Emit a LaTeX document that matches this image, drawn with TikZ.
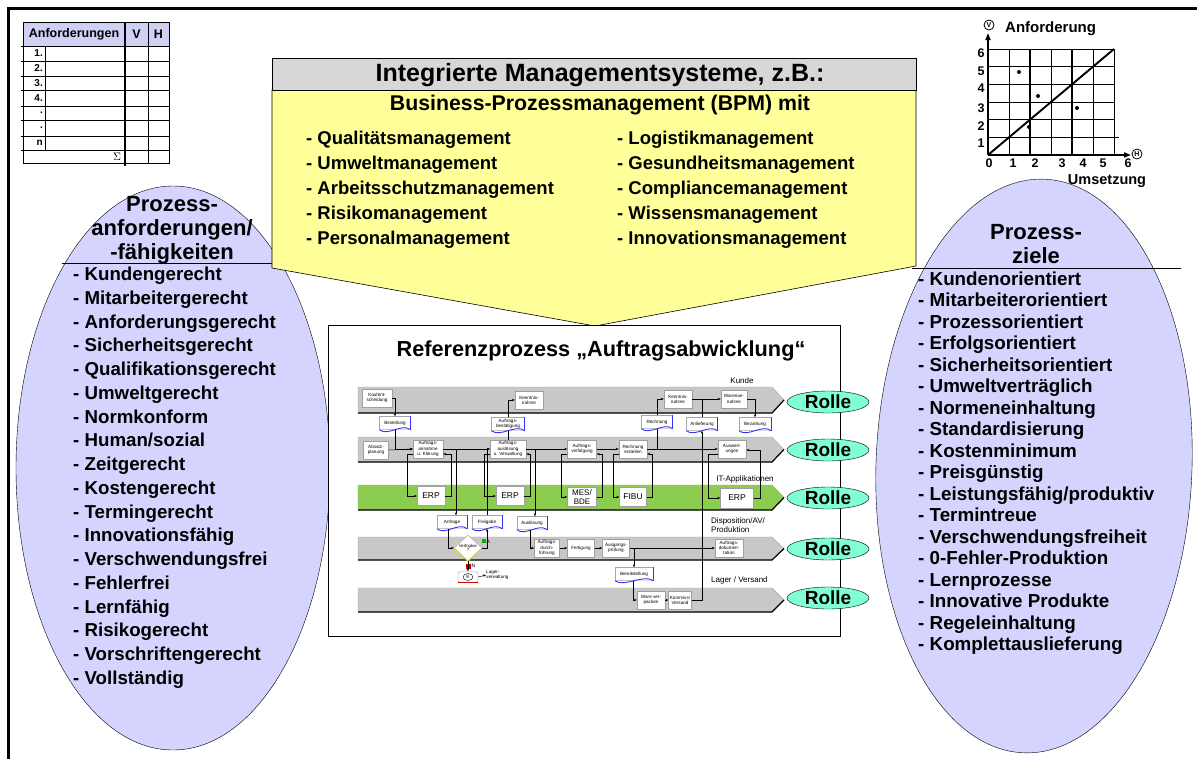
\documentclass[tikz,border=0pt]{standalone}
\usepackage{fontspec}
\setmainfont{Liberation Sans}
\usetikzlibrary{shapes.geometric,arrows.meta,calc}
\definecolor{lav}{RGB}{212,212,255}
\definecolor{hdrlav}{RGB}{208,208,245}
\definecolor{yel}{RGB}{255,255,153}
\definecolor{hgray}{RGB}{215,215,215}
\definecolor{lanegray}{RGB}{200,200,200}
\definecolor{lgreen}{RGB}{140,205,80}
\definecolor{rollecol}{RGB}{128,255,215}
\newcommand{\mytiny}{\fontsize{4.6}{5.2}\selectfont}
\begin{document}
\begin{tikzpicture}[x=1pt,y=-1pt,
  every node/.style={inner sep=0pt},
  lstl/.style={font=\fontsize{18.7}{20}\selectfont\bfseries, anchor=base west},
  lstr/.style={font=\fontsize{18.8}{20}\selectfont\bfseries, anchor=base west},
  yitem/.style={font=\fontsize{18.5}{20}\selectfont\bfseries, anchor=base west},
  sbox/.style={draw=gray!75, fill=white, font=\mytiny, align=center, minimum width=#1, minimum height=18pt},
  docbox/.style={draw=gray!70, fill=white, font=\mytiny, align=center, minimum width=#1, minimum height=13pt},
  itbox/.style={draw=gray!75, fill=white, font=\fontsize{8.5}{9}\selectfont, align=center, minimum width=28pt, minimum height=19pt},
  rolle/.style={ellipse, draw, fill=rollecol, minimum width=82pt, minimum height=22pt, font=\fontsize{19}{19}\selectfont\bfseries},
  arr/.style={-{Stealth[length=3pt,width=2.4pt]}, line width=0.5pt},
  ln/.style={line width=0.5pt},
  lanelbl/.style={font=\fontsize{8}{9.5}\selectfont, align=left},
  gridln/.style={line width=0.6pt},
  tblnum/.style={font=\fontsize{10}{10}\selectfont\bfseries, anchor=east},
  chnum/.style={font=\fontsize{12.5}{12.5}\selectfont\bfseries},
  ellhead/.style={font=\fontsize{22}{24}\selectfont\bfseries, align=center}
]
\useasboundingbox (0,0) rectangle (1197,758);
\fill[white] (0,0) rectangle (1197,758);
% frame
\draw[line width=3pt] (8,760) -- (8,8) -- (1199,8);

% ---------- table top left
\fill[hdrlav] (23,22) rectangle (169,46);
\draw[line width=0.6pt] (23,22) rectangle (169,163);
\foreach \yy in {46,61,76,90,106,120,136,150} \draw[line width=0.6pt] (21,\yy) -- (170,\yy);
\draw[line width=0.6pt] (45,46) -- (45,150);
\draw[line width=1.6pt] (125,22) -- (125,166);
\draw[line width=0.6pt] (148,22) -- (148,163);
\node[font=\fontsize{12.5}{12.5}\selectfont\bfseries] (th1) at (74,34) {Anforderungen};
\node[font=\fontsize{12.5}{12.5}\selectfont\bfseries] (th2) at (136.5,34) {V};
\node[font=\fontsize{12.5}{12.5}\selectfont\bfseries] (th3) at (158.5,34) {H};
\node[tblnum] (r1) at (43,53.5) {1.};
\node[tblnum] (r2) at (43,68.5) {2.};
\node[tblnum] (r3) at (43,83) {3.};
\node[tblnum] (r4) at (43,98) {4.};
\node[tblnum] (r5) at (43,113) {.};
\node[tblnum] (r6) at (43,128) {.};
\node[tblnum] (r7) at (43,143) {n};
\node[font=\fontsize{11}{11}\selectfont] (sum) at (117,157) {$\Sigma$};

% ---------- chart top right
\foreach \i in {0,...,6} \draw[gridln] ({988+21*\i},49) -- ({988+21*\i},155);
\foreach \j in {0,...,6} \draw[gridln] (988,{155-17.67*\j}) -- (1114,{155-17.67*\j});
\draw[line width=1.3pt] (1030,49) -- (1030,155);
\draw[line width=1.3pt] (1072,49) -- (1072,155);
\draw[line width=1.3pt] (988,119.66) -- (1114,119.66);
\draw[line width=1.3pt] (988,84.34) -- (1114,84.34);
\draw[gridln] (992,137.33) -- (1119,137.33);
\draw[line width=1.6pt, -{Triangle[length=7pt,width=5pt]}] (988,155) -- (988,33);
\draw[line width=1.6pt, -{Triangle[length=7pt,width=5pt]}] (988,155) -- (1131,155);
\draw[line width=1.9pt] (988,155) -- (1114,49);
\foreach \px/\py in {1019/72, 1038/96, 1029/127, 1077/108} \fill (\px,\py) circle (2);
\node[circle, draw, line width=0.8pt, minimum size=10pt, font=\fontsize{7}{7}\selectfont\bfseries] (cv) at (989,25) {V};
\node[circle, draw, line width=0.8pt, minimum size=10pt, font=\fontsize{7}{7}\selectfont\bfseries] (ch) at (1137,154) {H};
\node[anchor=west, font=\fontsize{15}{15}\selectfont\bfseries] (anfo) at (1005,29) {Anforderung};
\node[font=\fontsize{14.5}{14.5}\selectfont\bfseries] (umse) at (1107,181) {Umsetzung};
\foreach \t/\px in {0/989, 1/1013, 2/1035, 3/1062, 4/1083, 5/1103, 6/1128} \node[chnum] (cx\t) at (\px,163.5) {\t};
\foreach \t/\py in {6/53, 5/71, 4/88, 3/108, 2/126, 1/143} \node[chnum] (cy\t) at (981,\py) {\t};

% ---------- ellipses
\node[ellipse, draw, fill=lav, minimum width=314pt, minimum height=564pt] (lell) at (173,468) {};
\node[ellipse, draw, fill=lav, rotate=-2, minimum width=316pt, minimum height=574pt] (rell) at (1034,466) {};
\node[ellhead] (lhead) at (172,230) {Prozess-\\anforderungen/\\-fähigkeiten};
\draw[line width=0.8pt] (62,263) -- (273,263);
\node[ellhead] (rhead) at (1036,244) {Prozess-\\ziele};
\draw[line width=0.8pt] (912,268) -- (1181,268);
\foreach \t [count=\i from 0] in {Kundengerecht, Mitarbeitergerecht, Anforderungsgerecht, Sicherheitsgerecht, Qualifikationsgerecht, Umweltgerecht, Normkonform, Human/sozial, Zeitgerecht, Kostengerecht, Termingerecht, Innovationsfähig, Verschwendungsfrei, Fehlerfrei, Lernfähig, Risikogerecht, Vorschriftengerecht, Vollständig}
  \node[lstl] (li\i) at (73,{280.5+23.76*\i}) {- \t};
\foreach \t [count=\i from 0] in {Kundenorientiert, Mitarbeiterorientiert, Prozessorientiert, Erfolgsorientiert, Sicherheitsorientiert, Umweltverträglich, Normeneinhaltung, Standardisierung, Kostenminimum, Preisgünstig, Leistungsfähig/produktiv, Termintreue, Verschwendungsfreiheit, 0-Fehler-Produktion, Lernprozesse, Innovative Produkte, Regeleinhaltung, Komplettauslieferung}
  \node[lstr] (ri\i) at (918,{285.5+21.47*\i}) {- \t};

% ---------- yellow callout
\draw[fill=yel, line width=0.6pt] (272,90) -- (916,90) -- (916,266) -- (595,326) -- (272,268) -- cycle;
\node[draw, fill=hgray, line width=0.6pt, minimum width=644pt, minimum height=32pt, anchor=north west] (imshead) at (272,58) {};
\node[font=\fontsize{25}{25}\selectfont\bfseries] (imstitle) at (600,75) {Integrierte Managementsysteme, z.B.:};
\node[font=\fontsize{21.3}{22}\selectfont\bfseries] (bpm) at (600,105) {Business-Prozessmanagement (BPM) mit};
\foreach \t [count=\i from 0] in {Qualitätsmanagement, Umweltmanagement, Arbeitsschutzmanagement, Risikomanagement, Personalmanagement}
  \node[yitem] (ya\i) at (306,{144.5+25*\i}) {- \t};
\foreach \t [count=\i from 0] in {Logistikmanagement, Gesundheitsmanagement, Compliancemanagement, Wissensmanagement, Innovationsmanagement}
  \node[yitem] (yb\i) at (617,{144.5+25*\i}) {- \t};

% ---------- process box
\node[draw, fill=white, line width=0.8pt, minimum width=512pt, minimum height=311pt, anchor=north west] (procbox) at (328,325) {};
\node[font=\fontsize{21.7}{22}\selectfont\bfseries] (proctitle) at (601,351) {Referenzprozess „Auftragsabwicklung“};

% lanes
\foreach \ya/\yb/\col in {387/413/lanegray, 437/462/lanegray, 485/510/lgreen, 537/560/lanegray, 588/612/lanegray} {
  \draw[draw=gray!70, fill=\col] (358,\ya) -- (772,\ya) -- (784,{(\ya+\yb)/2}) -- (772,\yb) -- (358,\yb) -- cycle;
  \draw[line width=1.2pt] (358,\yb) -- (772,\yb) -- (784,{(\ya+\yb)/2});
}
\node[lanelbl] (lkunde) at (742,381) {Kunde};
\node[lanelbl] (lit) at (745,479) {IT-Applikationen};
\node[lanelbl, anchor=west] (ldisp) at (711,525) {Disposition/AV/\\Produktion};
\node[lanelbl, anchor=west] (llager) at (711,580) {Lager / Versand};

% process steps
\node[sbox=30pt] (kauf) at (377,398) {Kaufent-\\scheidung};
\node[sbox=28pt] (kenn1) at (529,400) {Kenntnis-\\nahme};
\node[sbox=28pt] (kenn2) at (678,399) {Kenntnis-\\nahme};
\node[sbox=26pt] (waren) at (734,399) {Warenan-\\nahme};
\node[sbox=25pt] (absatz) at (376,450) {Absatz-\\planung};
\node[sbox=30pt] (annahme) at (428,449) {Auftrags-\\annahme\\u. Klärung};
\node[sbox=36pt] (ausl) at (508,449) {Auftrags-\\auslösung\\u. Verwaltung};
\node[sbox=29pt] (verf) at (582,449) {Auftrags-\\verfolgung};
\node[sbox=28pt] (rerst) at (633,449) {Rechnung\\erstellen};
\node[sbox=28pt] (ausw) at (732,449) {Auswert-\\ungen};
\node[sbox=25pt] (durch) at (547,548) {Auftrags-\\durch-\\führung};
\node[sbox=27pt] (fert) at (581,548) {Fertigung};
\node[sbox=27pt] (ausg) at (616,548) {Ausgangs-\\prüfung};
\node[sbox=28pt] (doku) at (729,548) {Auftrags-\\dokumen-\\tation};
\node[sbox=28pt] (ware) at (651,600) {Ware ver-\\packen};
\node[sbox=23pt] (komm) at (680,600) {Kommiss/\\Versand};

\node[itbox] (erp1) at (431,496) {ERP};
\node[itbox] (erp2) at (510,496) {ERP};
\node[itbox, minimum width=29pt, font=\fontsize{8}{8.5}\selectfont] (mes) at (582,497) {MES/\\BDE};
\node[itbox, minimum width=27pt] (fibu) at (633,497) {FIBU};
\node[itbox, minimum width=33pt, minimum height=20pt] (erp3) at (737,498) {ERP};

\node[docbox=31pt] (best) at (395,423) {Bestellung};
\node[docbox=33pt] (abest) at (508,424) {Auftrags-\\bestätigung};
\node[docbox=31pt] (rech) at (657,422) {Rechnung};
\node[docbox=31pt] (anl) at (702,424) {Anlieferung};
\node[docbox=32pt] (bez) at (755,424) {Bezahlung};
\node[docbox=30pt] (anfr) at (452,522) {Anfrage};
\node[docbox=30pt] (freig) at (487,522) {Freigabe};
\node[docbox=30pt] (auslD) at (532,523) {Auslösung};
\node[docbox=38pt] (bereit) at (634,574) {Bereitstellung};
\foreach \d in {best,abest,rech,anl,bez,anfr,freig,auslD,bereit} {
  \fill[white] (\d.south west) .. controls +(9,7) and +(-9,-7) .. (\d.south east) -- cycle;
  \draw[blue!80, line width=0.9pt] (\d.south west) .. controls +(9,7) and +(-9,-7) .. (\d.south east);
  \draw[blue!80, line width=1pt] (\d.north east) -- (\d.south east);
}

\node[diamond, draw=gray!75, fill=white, minimum width=28pt, minimum height=22pt, font=\fontsize{4.2}{4.6}\selectfont, align=center] (vq) at (468,548) {Verfügbar\\?};
\draw[yellow!85!black, line width=0.9pt] (vq.west) -- (vq.south) -- (vq.east);
\node[draw=gray!75, fill=white, rounded corners=1.5pt, minimum width=20pt, minimum height=11pt] (kbox) at (468,577) {};
\node[ellipse, draw, minimum width=10pt, minimum height=7pt, font=\fontsize{5}{5}\selectfont] (kk) at (kbox.center) {K};
\draw[red!80!black, line width=0.8pt] (kbox.south west) -- (kbox.south east);
\node[anchor=west, font=\mytiny, align=left] (lagerv) at (486,575) {Lager-\\verwaltung};
\node[fill=green!70!black, minimum size=4pt] (jamk) at (484,541) {};
\node[anchor=west, font=\fontsize{5}{5}\selectfont] (ja) at (486.5,542) {A};
\node[fill=red!80!black, minimum size=5pt] (neinmk) at (468,566) {};
\node[anchor=west, font=\fontsize{5}{5}\selectfont] (nein) at (471.5,566) {N};

% junctions
\coordinate (j1) at (456,449);
\coordinate (j2) at (535,449);
\coordinate (j3) at (634,548);

% connectors
\draw[arr] (kauf.east) -| (best.north);
\draw[arr] (best.south) |- (annahme.west);
\draw[arr] (absatz.east) -- (annahme.west);
\draw[arr] (annahme.east) -- (ausl.west);
\draw[ln] (ausl.north) -- (abest.south);
\draw[arr] (abest.north) |- (kenn1.west);
\draw[arr] (ausl.east) -- (verf.west);
\draw[arr] (verf.east) -- (rerst.west);
\draw[arr] (rerst.east) -- (ausw.west);
\draw[ln] (rerst.east) -| (rech.south);
\draw[arr] (rech.north) |- (kenn2.west);
\draw[arr] (kenn2.east) -- (waren.west);
\draw[arr] (waren.east) -| (bez.north);
\draw[arr] (komm.east) -| (anl.south);
\draw[ln] (anl.north) -- (anl.north |- waren.west);
\draw[arr] ([yshift=-5pt]ausw.west) -- ++(-10,0) |- (erp3.west);
\draw[arr] (erp3.east) -- ++(7,0) |- ([yshift=-1pt]ausw.east);
\foreach \p/\q in {annahme/erp1, ausl/erp2, verf/mes, rerst/fibu} {
  \draw[arr] ([yshift=-5pt]\p.west) -- ++(-6,0) |- (\q.west);
  \draw[arr] (\q.east) -- ++(6,0) |- ([yshift=-5pt]\p.east);
}
\draw[arr] (j1) -- (j1 |- anfr.north);
\draw[arr] (freig.north) |- (ausl.west);
\draw[arr] (vq.east) -| (freig.south);
\draw[arr] ([xshift=-4pt]anfr.south) |- (vq.west);
\draw[arr] (vq.south) -- (kbox.north);
\draw[arr] (kbox.east) -- (lagerv.west);
\draw[arr] (j2) -- (j2 |- auslD.north);
\draw[arr] ([xshift=-2pt]auslD.south) |- (durch.west);
\draw[arr] (durch.east) -- (fert.west);
\draw[arr] (fert.east) -- (ausg.west);
\draw[arr] (ausg.east) -- (doku.west);
\draw[arr] (j3) -- (j3 |- bereit.north);
\draw[arr] ([xshift=-1pt]bereit.south) |- (ware.west);
\draw[arr] (ware.east) -- (komm.west);

% roles
\foreach \yy [count=\i] in {402,450,498,549,598} \node[rolle] (rolle\i) at (828,\yy) {Rolle};
\end{tikzpicture}
\end{document}
